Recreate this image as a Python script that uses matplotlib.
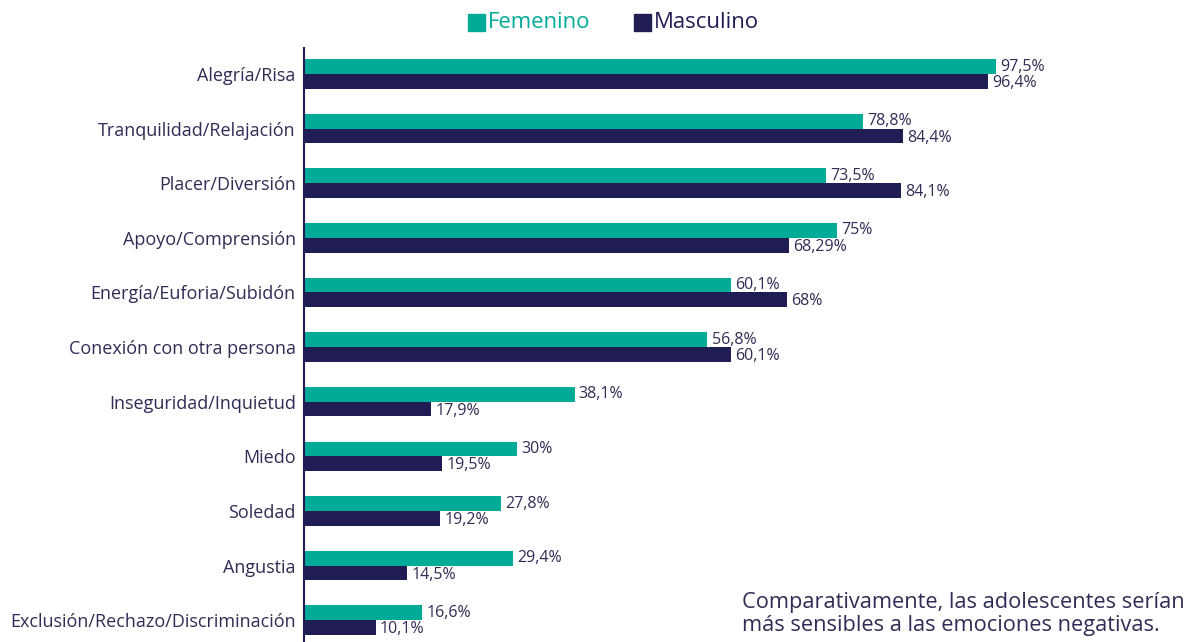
import matplotlib.pyplot as plt
import numpy as np

plt.rcParams['font.family'] = ['Open Sans', 'DejaVu Sans']

categories = ["Alegría/Risa", "Tranquilidad/Relajación", "Placer/Diversión",
              "Apoyo/Comprensión", "Energía/Euforia/Subidón", "Conexión con otra persona",
              "Inseguridad/Inquietud", "Miedo", "Soledad", "Angustia",
              "Exclusión/Rechazo/Discriminación"]
femenino = [97.5, 78.8, 73.5, 75, 60.1, 56.8, 38.1, 30, 27.8, 29.4, 16.6]
masculino = [96.4, 84.4, 84.1, 68.29, 68, 60.1, 17.9, 19.5, 19.2, 14.5, 10.1]
fem_labels = ["97,5%", "78,8%", "73,5%", "75%", "60,1%", "56,8%", "38,1%", "30%", "27,8%", "29,4%", "16,6%"]
mas_labels = ["96,4%", "84,4%", "84,1%", "68,29%", "68%", "60,1%", "17,9%", "19,5%", "19,2%", "14,5%", "10,1%"]

TEAL = "#00ab97"
NAVY = "#201d55"
TEXT = "#2e2d55"

W, H = 1192, 642
fig = plt.figure(figsize=(W / 100, H / 100), dpi=100)
# axes from x=304px to 1014px (0..100), y from 48px to 642px
ax = fig.add_axes([304 / W, 0, (1014 - 304) / W, (642 - 48) / H])

y = np.arange(len(categories))
h = 0.27
ax.barh(y - h / 2, femenino, height=h, color=TEAL)
ax.barh(y + h / 2, masculino, height=h, color=NAVY)

for i in range(len(categories)):
    ax.text(femenino[i] + 0.6, y[i] - h / 2, fem_labels[i], va="center", ha="left",
            fontsize=11.5, color=TEXT, clip_on=False)
    ax.text(masculino[i] + 0.6, y[i] + h / 2 + 0.03, mas_labels[i], va="center", ha="left",
            fontsize=11.5, color=TEXT, clip_on=False)

ax.set_xlim(0, 100)
ax.set_ylim(10.40, -0.476)
ax.set_yticks(y)
ax.set_yticklabels(categories, fontsize=13.0, color=TEXT)
ax.tick_params(axis="y", length=0, pad=6)
ax.set_xticks([])
for s in ["top", "right", "bottom"]:
    ax.spines[s].set_visible(False)
ax.spines["left"].set_color(NAVY)
ax.spines["left"].set_linewidth(1.5)

# legend
fig.patches.append(plt.Rectangle((468 / W, 1 - 31 / H), 17 / W, 17 / H,
                                 transform=fig.transFigure, color=TEAL))
fig.text(488 / W, 1 - 23 / H, "Femenino", color=TEAL, fontsize=15.9, va="center")
fig.patches.append(plt.Rectangle((634 / W, 1 - 31 / H), 17 / W, 17 / H,
                                 transform=fig.transFigure, color=NAVY))
fig.text(654 / W, 1 - 23 / H, "Masculino", color=NAVY, fontsize=15.9, va="center")

fig.text(742 / W, 1 - 614 / H,
         "Comparativamente, las adolescentes serían\nmás sensibles a las emociones negativas.",
         color=TEXT, fontsize=15.7, va="center", ha="left", linespacing=1.12)

fig.savefig("out.png", dpi=100)
